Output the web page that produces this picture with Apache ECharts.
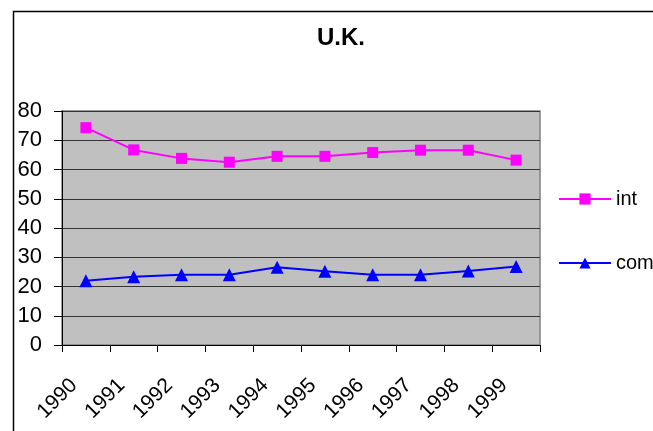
<!DOCTYPE html>
<html><head><meta charset="utf-8">
<script src="https://cdn.jsdelivr.net/npm/echarts@6/dist/echarts.min.js"></script>
<style>html,body{margin:0;padding:0;background:#fff}#c{width:653px;height:431px}</style>
</head><body><div id="c"></div>
<script>
var titleText = 'U.K.';
var years = ['1990','1991','1992','1993','1994','1995','1996','1997','1998','1999'];
var intValues = [74.3, 66.7, 63.8, 62.5, 64.5, 64.5, 65.8, 66.6, 66.6, 63.2];
var comValues = [22.0, 23.3, 24.0, 24.0, 26.6, 25.2, 24.0, 24.0, 25.3, 26.8];
var seriesNames = ['int', 'com'];
var yTicks = {min: 0, max: 80, interval: 10};

var FONT = '"Liberation Sans", Arial, sans-serif';
var chart = echarts.init(document.getElementById('c'), null, {renderer: 'canvas'});
chart.setOption({
  animation: false,
  backgroundColor: '#ffffff',
  title: {
    text: titleText, left: 336, top: 21, textAlign: 'center',
    textStyle: {fontFamily: FONT, fontSize: 24, fontWeight: 'bold', color: '#000'}
  },
  graphic: [{
    type: 'rect', shape: {x: 13.5, y: 11.5, width: 800, height: 600},
    style: {fill: null, stroke: '#000', lineWidth: 1.5}, silent: true, z: 100
  }],
  legend: {
    orient: 'vertical', left: 553, top: 184, itemWidth: 52, itemHeight: 14, itemGap: 44,
    textStyle: {fontFamily: FONT, fontSize: 20, color: '#000'},
    data: seriesNames
  },
  grid: {
    left: 62, right: 113, top: 111, bottom: 86, show: true,
    backgroundColor: '#C0C0C0', borderColor: '#808080', borderWidth: 1.5
  },
  xAxis: {
    type: 'category', data: years, boundaryGap: true,
    axisLine: {lineStyle: {color: '#000', width: 1}},
    axisTick: {show: true, length: 7, lineStyle: {color: '#000'}},
    axisLabel: {rotate: 45, margin: 25, padding: [0, 17, 0, 0], interval: 0,
      fontFamily: FONT, fontSize: 21, color: '#000'},
    splitLine: {show: false}
  },
  yAxis: {
    type: 'value', min: yTicks.min, max: yTicks.max, interval: yTicks.interval,
    axisLine: {show: true, lineStyle: {color: '#000', width: 1}},
    axisTick: {show: true, length: 8, lineStyle: {color: '#000'}},
    axisLabel: {margin: 20, fontFamily: FONT, fontSize: 22, color: '#000'},
    splitLine: {show: true, lineStyle: {color: '#333', width: 1}}
  },
  series: [{
    name: seriesNames[0], type: 'line', data: intValues,
    symbol: 'rect', symbolSize: 11,
    lineStyle: {color: '#FF00FF', width: 2}, itemStyle: {color: '#FF00FF'}
  }, {
    name: seriesNames[1], type: 'line', data: comValues,
    symbol: 'triangle', symbolSize: 13,
    lineStyle: {color: '#0000FF', width: 2}, itemStyle: {color: '#0000FF'}
  }]
});
</script></body></html>
